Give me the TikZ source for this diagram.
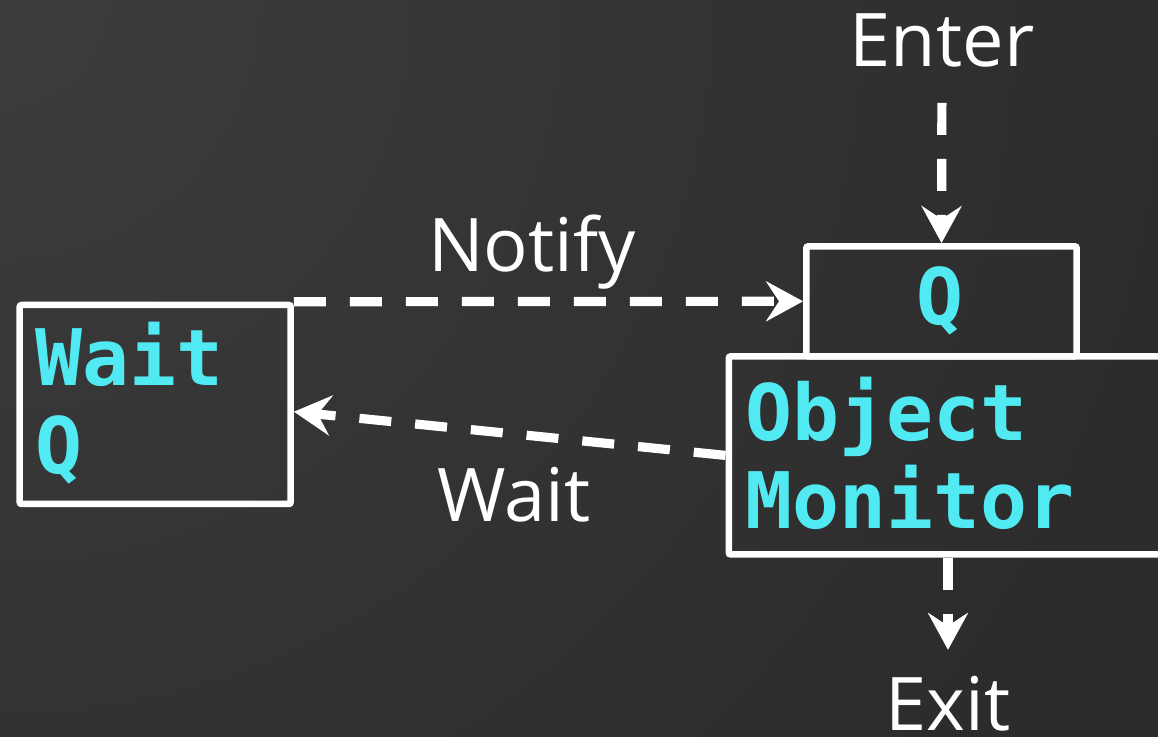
\documentclass[tikz,border=0pt]{standalone}
\usepackage{fontspec}
\setmainfont{Open Sans}
\newfontfamily\chalkfont{DejaVu Sans Mono}
\usetikzlibrary{arrows.meta, positioning}

\definecolor{bglight}{HTML}{3C3C3C}
\definecolor{bgdark}{HTML}{2C2C2C}
\definecolor{chalkcyan}{HTML}{52EAF2}

\tikzstyle{box} = [draw=white, line width=3.25pt, rounded corners=1pt, inner sep=0pt]
\tikzstyle{flow} = [draw=white, line width=4.6pt, dash pattern=on 16pt off 12pt, -{Stealth[length=18.5pt, width=20pt, inset=6.5pt]}]
\tikzstyle{lbl} = [text=white, font=\fontsize{37}{40}\selectfont, inner sep=0pt]
\tikzstyle{chalk} = [text=chalkcyan, font=\chalkfont\bfseries\fontsize{39}{44}\selectfont, inner sep=0pt, align=left]

\begin{document}
\begin{tikzpicture}[x=0.5pt, y=-0.5pt]
    \useasboundingbox (0,0) rectangle (1158,737);
    % chalkboard
    \fill[bgdark] (0,0) rectangle (1158,737);
    \begin{scope}
        \clip (0,0) rectangle (1158,737);
        \shade[inner color=bglight, outer color=bgdark] (0,0) circle (600pt);
    \end{scope}

    % queues and monitor
    \node[box, minimum width=135.5pt, minimum height=99.5pt] (waitq) at (155.2,404.5) {};
    \node[box, minimum width=135.2pt, minimum height=55pt] (qbox) at (941.5,301.3) {};
    \node[box, minimum width=235.6pt, minimum height=99.1pt] (om) at (964.4,455.4) {};

    \node[chalk, anchor=north west] (waittxt) at (35,322) {Wait\\Q};
    \node[chalk, anchor=base] (qtxt) at (940,325) {Q};
    \node[chalk, anchor=north west] (omtxt) at (745,377) {Object\\Monitor};

    % labels
    \node[lbl, anchor=base] (enter) at (942,67) {Enter};
    \node[lbl, anchor=base] (notify) at (532,272) {Notify};
    \node[lbl, anchor=base] (wait) at (514,522) {Wait};
    \node[lbl, anchor=base] (exit) at (948,731) {Exit};

    \draw[flow, shorten <=17.35pt] (enter.south) -- (qbox.north);
    \draw[flow] (waitq.north east) -- (qbox.west);
    \draw[flow] (om.west) -- ([yshift=-3.6pt]waitq.east);
    \draw[flow, shorten >=13.2pt] (om.south -| exit) -- (exit.north);

\end{tikzpicture}
\end{document}
